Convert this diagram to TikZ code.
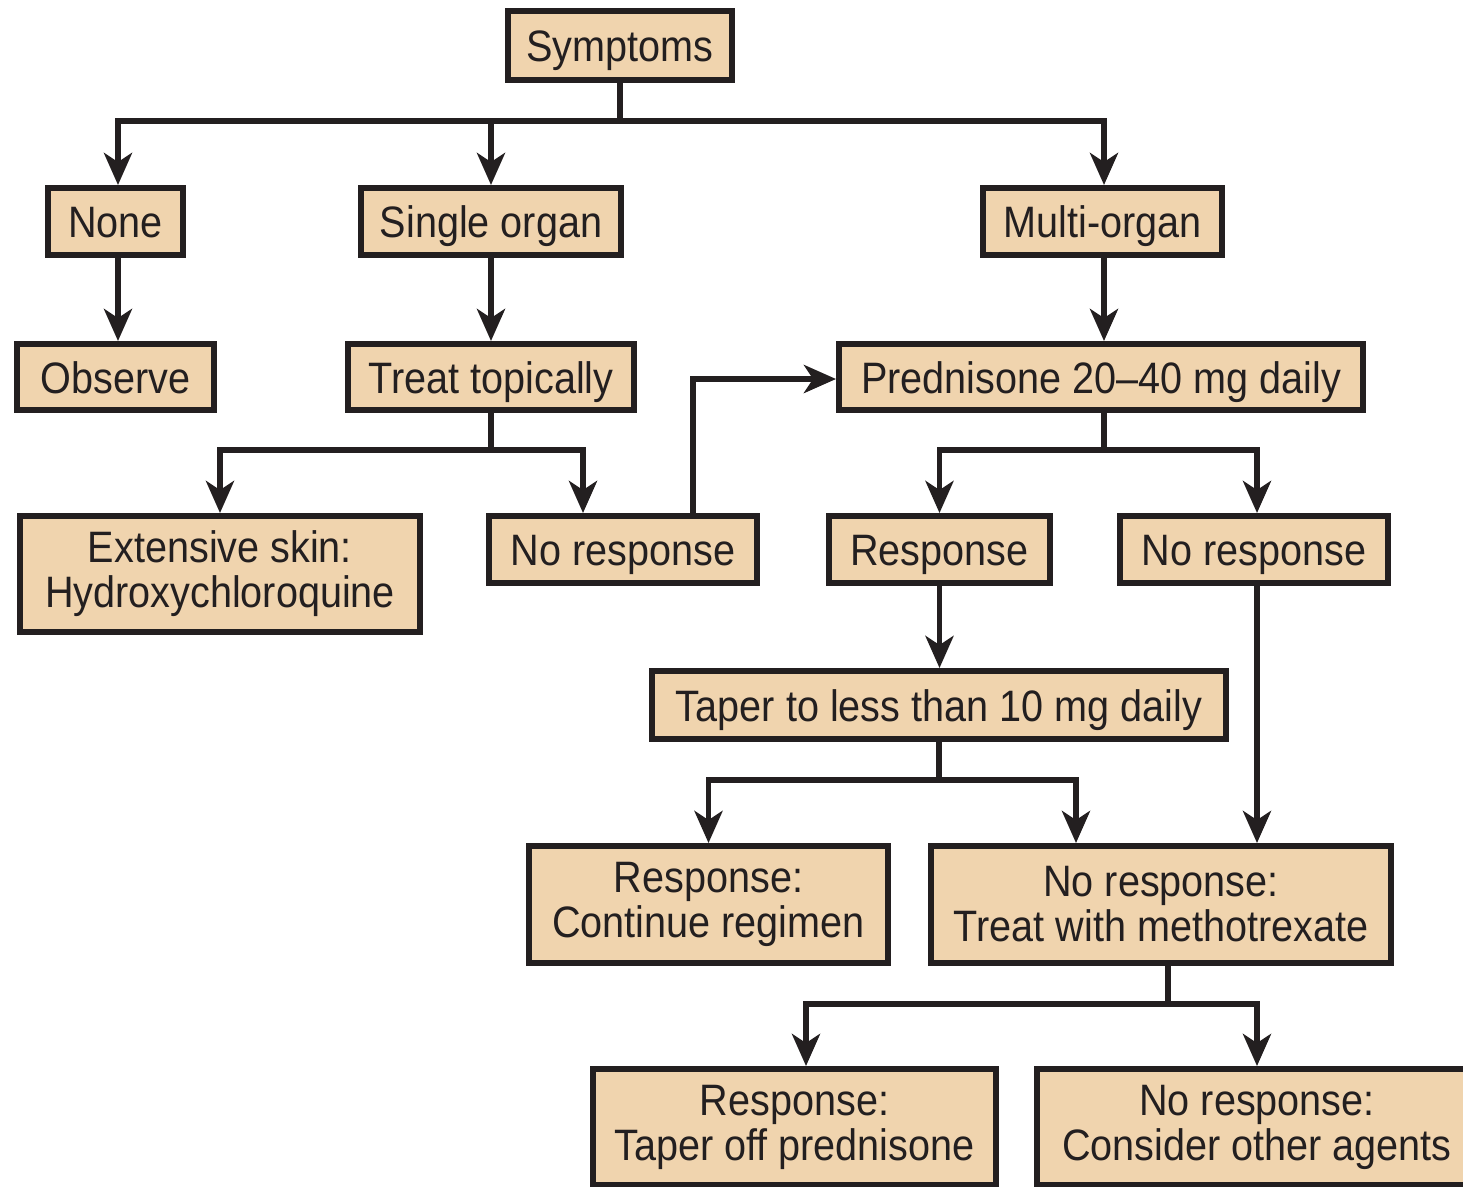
\documentclass[tikz,border=0pt]{standalone}
\usepackage{fontspec}
\setmainfont{Liberation Sans}
\newfontfamily\labfont[FakeStretch=0.9]{Liberation Sans}
\usetikzlibrary{arrows.meta}
\definecolor{ink}{HTML}{231F20}
\definecolor{tan}{HTML}{F0D4AE}
\tikzset{
  box/.style={draw=ink, fill=tan, line width=6pt, inner sep=0pt, align=center,
    text=ink, font=\labfont\fontsize{44}{45}\selectfont},
  one/.style={box, text height=32pt, text depth=0pt},
  conn/.style={draw=ink, line width=5.5pt},
  arr/.style={conn, -{Stealth[length=32pt, width=28pt, inset=9pt]}}
}
\begin{document}
\begin{tikzpicture}[x=1pt, y=-1pt]
\clip (0,0) rectangle (1463,1186);
\fill[white] (0,0) rectangle (1463,1186);
% nodes
\node[one, minimum width=224pt, minimum height=69pt] (sym) at (620,45.5) {Symptoms};
\node[one, minimum width=135pt, minimum height=67pt] (none) at (115.5,221.5) {None};
\node[one, minimum width=260pt, minimum height=67pt] (single) at (491,221.5) {Single organ};
\node[one, minimum width=239pt, minimum height=67pt] (multi) at (1102.5,221.5) {Multi-organ};
\node[one, minimum width=197pt, minimum height=66pt] (observe) at (115.5,377) {Observe};
\node[one, minimum width=286pt, minimum height=66pt] (topical) at (491,377) {Treat topically};
\node[one, minimum width=524pt, minimum height=66pt] (pred) at (1101,377) {Prednisone 20–40 mg daily};
\node[box, minimum width=400pt, minimum height=116pt] (ext) at (220,574) {Extensive skin:\\Hydroxychloroquine};
\node[one, minimum width=268pt, minimum height=67pt] (nrl) at (623,549.5) {No response};
\node[one, minimum width=221pt, minimum height=67pt] (resp) at (939.5,549.5) {Response};
\node[one, minimum width=268pt, minimum height=67pt] (nrr) at (1254,549.5) {No response};
\node[one, minimum width=574pt, minimum height=68pt] (taper) at (939,705) {Taper to less than 10 mg daily};
\node[box, minimum width=359pt, minimum height=117pt] (cont) at (708.5,904.5) {Response:\\Continue regimen};
\node[box, minimum width=460pt, minimum height=117pt] (mtx) at (1161,904.5) {No response:\\Treat with methotrexate};
\node[box, minimum width=403pt, minimum height=116pt] (toff) at (794.5,1127) {Response:\\Taper off prednisone};
\node[box, minimum width=440pt, minimum height=116pt] (other) at (1257,1127) {No response:\\Consider other agents};
% junction coordinates
\coordinate (j1) at (620,121);
\coordinate (j2) at (491,450);
\coordinate (j3) at (1104,450);
\coordinate (j4) at (939,780);
\coordinate (j5) at (1168,1004);
\coordinate (up) at (693,379);
% connectors
\draw[conn] (sym.south) -- (j1);
\draw[arr] (j1) -| ([xshift=2.5pt]none.north);
\draw[arr] (j1) -| (single.north);
\draw[arr] (j1) -| ([xshift=1.5pt]multi.north);
\draw[arr] ([xshift=2.5pt]none.south) -- ([xshift=2.5pt]observe.north);
\draw[arr] (single.south) -- (topical.north);
\draw[arr] ([xshift=1.5pt]multi.south) -- ([xshift=3pt]pred.north);
\draw[conn] (topical.south) -- (j2);
\draw[arr] (j2) -| (ext.north);
\draw[arr] (j2) -| ([xshift=-40pt]nrl.north);
\draw[arr] ([xshift=70pt]nrl.north) |- (up) -- (pred.west |- up);
\draw[conn] ([xshift=3pt]pred.south) -- (j3);
\draw[arr] (j3) -| (resp.north);
\draw[arr] (j3) -| ([xshift=3pt]nrr.north);
\draw[arr] (resp.south) -- (resp.south |- taper.north);
\draw[conn] (taper.south) -- (j4);
\draw[arr] (j4) -| (cont.north);
\draw[arr] (j4) -| ([xshift=-85pt]mtx.north);
\draw[arr] ([xshift=3pt]nrr.south) -- ([xshift=3pt]nrr.south |- mtx.north);
\draw[conn] ([xshift=7pt]mtx.south) -- (j5);
\draw[arr] (j5) -| ([xshift=11.5pt]toff.north);
\draw[arr] (j5) -| (other.north);
\end{tikzpicture}
\end{document}
